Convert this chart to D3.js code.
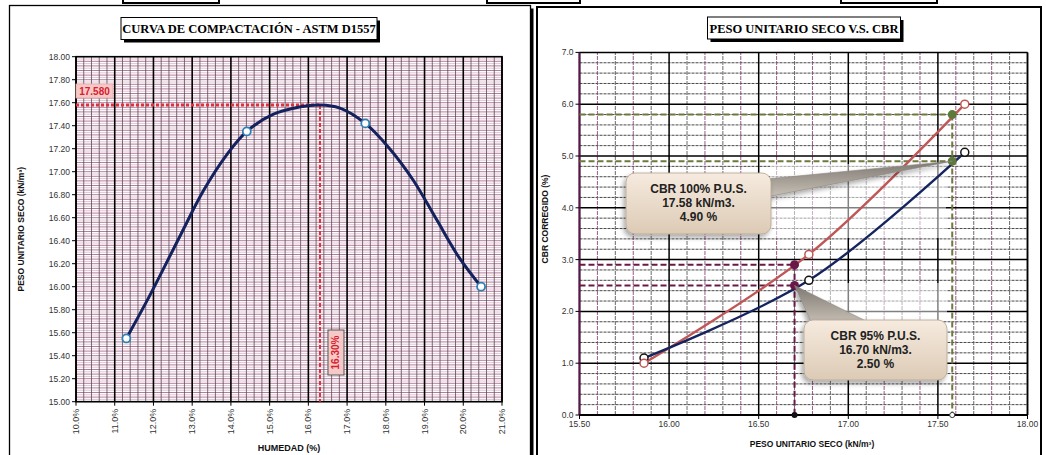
<!DOCTYPE html>
<html>
<head>
<meta charset="utf-8">
<script src="https://cdn.jsdelivr.net/npm/d3@7"></script>
<style>
  html, body { margin: 0; padding: 0; background: #fff; }
  svg { display: block; }
  text { font-family: "Liberation Sans", Arial, sans-serif; }
</style>
</head>
<body>
<svg id="chart" width="1046" height="455"></svg>
<script>
// ---- Compaction curve (Proctor, ASTM D1557) ----
const moisture = [11.3, 14.41, 17.47, 20.46];          // %
const dryDensity = [15.55, 17.35, 17.42, 16.00];       // kN/m3
// fitted curve traced through the test points
const fitMoisture = [11.3, 11.9, 12.7, 13.3, 13.9, 14.41, 15.1, 15.8, 16.3, 16.8, 17.47, 18.1, 18.7, 19.3, 19.9, 20.46];
const fitDensity  = [15.55, 15.92, 16.45, 16.84, 17.15, 17.35, 17.50, 17.565, 17.58, 17.555, 17.42, 17.20, 16.93, 16.59, 16.25, 16.00];
const optMoisture = 16.30;
const maxDensity = 17.58;
const yTicksL = [15.0, 15.2, 15.4, 15.6, 15.8, 16.0, 16.2, 16.4, 16.6, 16.8, 17.0, 17.2, 17.4, 17.6, 17.8, 18.0];
const xTicksL = [10, 11, 12, 13, 14, 15, 16, 17, 18, 19, 20, 21];

// ---- Dry unit weight vs CBR ----
const cbrDensity = [15.86, 16.78, 17.65];
const cbr01 = [1.10, 2.60, 5.07];   // navy series
const cbr02 = [1.00, 3.10, 6.00];   // red series
const dens95 = 16.70, dens100 = 17.58;
const cbr95 = [2.90, 2.50];         // red, navy at 95%
const cbr100 = [5.80, 4.90];        // red, navy at 100%
const yTicksR = [0, 1, 2, 3, 4, 5, 6, 7];
const xTicksR = [15.5, 16.0, 16.5, 17.0, 17.5, 18.0];

const svg = d3.select("#chart");
const defs = svg.append("defs");

const calloutGrad = defs.append("linearGradient").attr("id", "callFill").attr("x1", 0).attr("y1", 0).attr("x2", 0).attr("y2", 1);
calloutGrad.append("stop").attr("offset", "0%").attr("stop-color", "#f6ebdf");
calloutGrad.append("stop").attr("offset", "100%").attr("stop-color", "#dccab5");
const wedgeGrad = defs.append("linearGradient").attr("id", "wedgeFill").attr("x1", 0).attr("y1", 0).attr("x2", 0).attr("y2", 1);
wedgeGrad.append("stop").attr("offset", "0%").attr("stop-color", "#7d7872");
wedgeGrad.append("stop").attr("offset", "100%").attr("stop-color", "#c9c1b6");
const shadow = defs.append("filter").attr("id", "soft").attr("x", "-20%").attr("y", "-20%").attr("width", "140%").attr("height", "150%");
shadow.append("feDropShadow").attr("dx", -2).attr("dy", 3).attr("stdDeviation", 2.5).attr("flood-color", "#000").attr("flood-opacity", 0.35);

// ---- panel frames ----
[[123, 219], [487, 580], [841, 937]].forEach(([a, b]) => {
  svg.append("rect").attr("x", a).attr("y", -6).attr("width", b - a).attr("height", 9)
    .attr("fill", "#fff").attr("stroke", "#000").attr("stroke-width", 2);
});
svg.append("rect").attr("x", 12.5).attr("y", 8.5).attr("width", 521).attr("height", 460).attr("fill", "#000");
svg.append("rect").attr("x", 9.5).attr("y", 5.5).attr("width", 521).attr("height", 460)
  .attr("fill", "#fff").attr("stroke", "#000").attr("stroke-width", 1.3);
svg.append("rect").attr("x", 537).attr("y", 7).attr("width", 504).attr("height", 460)
  .attr("fill", "#fff").attr("stroke", "#000").attr("stroke-width", 2);

function titleBox(cx, cy, w, label) {
  const g = svg.append("g");
  g.append("rect").attr("x", cx - w / 2 + 3).attr("y", cy - 11 + 3).attr("width", w).attr("height", 22).attr("fill", "#000");
  g.append("rect").attr("x", cx - w / 2).attr("y", cy - 11).attr("width", w).attr("height", 22)
    .attr("fill", "#fff").attr("stroke", "#000").attr("stroke-width", 1);
  g.append("text").attr("x", cx).attr("y", cy + 4.5).attr("text-anchor", "middle")
    .style("font-family", "'Liberation Serif', 'Times New Roman', serif").style("font-weight", "bold")
    .style("font-size", "12.5px").attr("fill", "#000").text(label);
}

// ================= LEFT: compaction curve =================
const xL = d3.scaleLinear().domain([10, 21]).range([76, 502]);
const yL = d3.scaleLinear().domain([15, 18]).range([401.7, 56.7]);

titleBox(249, 28.5, 256, "CURVA DE COMPACTACIÓN - ASTM D1557");

const gL = svg.append("g");
// horizontal fine grid
d3.range(0, 151).map(i => 15 + i * 0.02).forEach((v, i) => {
  gL.append("line").attr("x1", xL(10)).attr("x2", xL(21)).attr("y1", yL(v)).attr("y2", yL(v))
    .attr("stroke", i % 2 ? "#dcb2c8" : "#9c5e82").attr("stroke-width", 0.8);
});
// vertical minor grid (0.2 %)
d3.range(0, 56).map(i => 10 + i * 0.2).forEach((v, i) => {
  if (i % 5 === 0) return;
  gL.append("line").attr("x1", xL(v)).attr("x2", xL(v)).attr("y1", yL(15)).attr("y2", yL(18))
    .attr("stroke", "#5a4854").attr("stroke-width", 0.8);
});
// vertical major grid (1 %)
xTicksL.forEach(v => {
  gL.append("line").attr("x1", xL(v)).attr("x2", xL(v)).attr("y1", yL(15)).attr("y2", yL(18))
    .attr("stroke", "#000").attr("stroke-width", 1.6);
});
gL.append("rect").attr("x", xL(10)).attr("y", yL(18)).attr("width", xL(21) - xL(10)).attr("height", yL(15) - yL(18))
  .attr("fill", "none").attr("stroke", "#000").attr("stroke-width", 1.6);

// y ticks
yTicksL.forEach(v => {
  gL.append("line").attr("x1", xL(10) - 4).attr("x2", xL(10)).attr("y1", yL(v)).attr("y2", yL(v)).attr("stroke", "#000");
  gL.append("text").attr("x", xL(10) - 6).attr("y", yL(v) + 3).attr("text-anchor", "end")
    .style("font-size", "8.5px").attr("fill", "#333").text(v.toFixed(2));
});
// x ticks (rotated)
xTicksL.forEach(v => {
  gL.append("line").attr("x1", xL(v)).attr("x2", xL(v)).attr("y1", yL(15)).attr("y2", yL(15) + 4).attr("stroke", "#000");
  gL.append("text").attr("transform", `translate(${xL(v) + 3},${yL(15) + 7}) rotate(-90)`)
    .attr("text-anchor", "end").style("font-size", "9px").attr("fill", "#333").text(v.toFixed(1) + "%");
});
gL.append("text").attr("transform", `translate(24,${(yL(15) + yL(18)) / 2}) rotate(-90)`).attr("text-anchor", "middle")
  .style("font-size", "8.5px").style("font-weight", "bold").attr("fill", "#111").text("PESO UNITARIO SECO (kN/m³)");
gL.append("text").attr("x", 289).attr("y", 451).attr("text-anchor", "middle")
  .style("font-size", "9px").style("font-weight", "bold").attr("fill", "#111").text("HUMEDAD (%)");

// optimum markers
gL.append("line").attr("x1", xL(10)).attr("x2", xL(optMoisture)).attr("y1", yL(maxDensity)).attr("y2", yL(maxDensity))
  .attr("stroke", "#e0303c").attr("stroke-width", 3).attr("stroke-dasharray", "3,2");
gL.append("line").attr("x1", xL(optMoisture)).attr("x2", xL(optMoisture)).attr("y1", yL(maxDensity)).attr("y2", yL(15))
  .attr("stroke", "#e0303c").attr("stroke-width", 2).attr("stroke-dasharray", "4,2");

// fitted curve
const lineL = d3.line().x(d => xL(d[0])).y(d => yL(d[1])).curve(d3.curveCatmullRom.alpha(0.5));
gL.append("path").datum(d3.zip(fitMoisture, fitDensity)).attr("d", lineL)
  .attr("fill", "none").attr("stroke", "#13215e").attr("stroke-width", 3);
d3.zip(moisture, dryDensity).forEach(d => {
  gL.append("circle").attr("cx", xL(d[0])).attr("cy", yL(d[1])).attr("r", 4)
    .attr("fill", "#fff").attr("stroke", "#2f7fb5").attr("stroke-width", 1.8);
});

// value labels
gL.append("rect").attr("x", 76).attr("y", 84).attr("width", 37).attr("height", 14)
  .attr("fill", "#f6c9c9").attr("stroke", "#e8a8a8").attr("stroke-width", 0.8);
gL.append("text").attr("x", 94.5).attr("y", 94.5).attr("text-anchor", "middle")
  .style("font-size", "10px").style("font-weight", "bold").attr("fill", "#d8202c").text(maxDensity.toFixed(3));
gL.append("rect").attr("x", xL(optMoisture) + 8).attr("y", 330).attr("width", 16).attr("height", 45)
  .attr("fill", "#f6c9c9").attr("stroke", "#555").attr("stroke-width", 1);
gL.append("text").attr("transform", `translate(${xL(optMoisture) + 19.5},352.5) rotate(-90)`).attr("text-anchor", "middle")
  .style("font-size", "10px").style("font-weight", "bold").attr("fill", "#d8202c").text(optMoisture.toFixed(2) + "%");

// ================= RIGHT: dry unit weight vs CBR =================
const xR = d3.scaleLinear().domain([15.5, 18]).range([579.5, 1027.5]);
const yR = d3.scaleLinear().domain([0, 7]).range([415, 52.4]);

titleBox(804, 28, 193, "PESO UNITARIO SECO V.S. CBR");

const gR = svg.append("g");
// horizontal grid every 0.2
d3.range(0, 36).map(i => i * 0.2).forEach((v, i) => {
  if (i % 5 === 0) return;
  gR.append("line").attr("x1", xR(15.5)).attr("x2", xR(18)).attr("y1", yR(v)).attr("y2", yR(v))
    .attr("stroke", "#333").attr("stroke-width", 0.9).attr("stroke-dasharray", "3,1");
});
// vertical grid every 0.1
d3.range(0, 26).map(i => 15.5 + i * 0.1).forEach((v, i) => {
  if (i % 5 === 0) return;
  gR.append("line").attr("x1", xR(v)).attr("x2", xR(v)).attr("y1", yR(0)).attr("y2", yR(7))
    .attr("stroke", i % 2 ? "#8a4a78" : "#5a5a5a").attr("stroke-width", 0.9).attr("stroke-dasharray", "4,1");
});
yTicksR.forEach(v => {
  gR.append("line").attr("x1", xR(15.5)).attr("x2", xR(18)).attr("y1", yR(v)).attr("y2", yR(v))
    .attr("stroke", "#000").attr("stroke-width", 1.5);
});
xTicksR.forEach(v => {
  gR.append("line").attr("x1", xR(v)).attr("x2", xR(v)).attr("y1", yR(0)).attr("y2", yR(7))
    .attr("stroke", "#000").attr("stroke-width", 1.5);
});
// faded areas around the callout pointers
gR.append("rect").attr("x", 770).attr("y", 164).attr("width", 176).attr("height", 74).attr("fill", "#fff").attr("opacity", 0.5);
gR.append("rect").attr("x", 806).attr("y", 283).attr("width", 141).attr("height", 38).attr("fill", "#fff").attr("opacity", 0.5);

gR.append("line").attr("x1", xR(15.5)).attr("x2", xR(15.5)).attr("y1", yR(0)).attr("y2", yR(7)).attr("stroke", "#5a1848").attr("stroke-width", 2);
gR.append("line").attr("x1", xR(15.5)).attr("x2", xR(18)).attr("y1", yR(0)).attr("y2", yR(0)).attr("stroke", "#000").attr("stroke-width", 2);
gR.append("line").attr("x1", xR(18)).attr("x2", xR(18)).attr("y1", yR(0)).attr("y2", yR(7)).attr("stroke", "#000").attr("stroke-width", 1.5);

yTicksR.forEach(v => {
  gR.append("line").attr("x1", xR(15.5) - 4).attr("x2", xR(15.5)).attr("y1", yR(v)).attr("y2", yR(v)).attr("stroke", "#000");
  gR.append("text").attr("x", xR(15.5) - 6).attr("y", yR(v) + 3).attr("text-anchor", "end")
    .style("font-size", "8.5px").attr("fill", "#333").text(v.toFixed(1));
});
xTicksR.forEach(v => {
  gR.append("line").attr("x1", xR(v)).attr("x2", xR(v)).attr("y1", yR(0)).attr("y2", yR(0) + 4).attr("stroke", "#000");
  gR.append("text").attr("x", xR(v)).attr("y", yR(0) + 12).attr("text-anchor", "middle")
    .style("font-size", "8.5px").attr("fill", "#333").text(v.toFixed(2));
});
gR.append("text").attr("transform", `translate(548,219) rotate(-90)`).attr("text-anchor", "middle")
  .style("font-size", "8.5px").style("font-weight", "bold").attr("fill", "#111").text("CBR CORREGIDO (%)");
gR.append("text").attr("x", 812).attr("y", 447).attr("text-anchor", "middle")
  .style("font-size", "8.5px").style("font-weight", "bold").attr("fill", "#111").text("PESO UNITARIO SECO (kN/m³)");

// reference lines at 95% and 100%
const purple = "#6a1848", olive = "#6e7a3c";
cbr95.forEach(c => {
  gR.append("line").attr("x1", xR(15.5)).attr("x2", xR(dens95)).attr("y1", yR(c)).attr("y2", yR(c))
    .attr("stroke", purple).attr("stroke-width", 2).attr("stroke-dasharray", "6,3");
});
gR.append("line").attr("x1", xR(dens95)).attr("x2", xR(dens95)).attr("y1", yR(cbr95[0])).attr("y2", yR(0))
  .attr("stroke", purple).attr("stroke-width", 2).attr("stroke-dasharray", "6,3");
cbr100.forEach(c => {
  gR.append("line").attr("x1", xR(15.5)).attr("x2", xR(dens100)).attr("y1", yR(c)).attr("y2", yR(c))
    .attr("stroke", olive).attr("stroke-width", 2).attr("stroke-dasharray", "6,3");
});
gR.append("line").attr("x1", xR(dens100)).attr("x2", xR(dens100)).attr("y1", yR(cbr100[0])).attr("y2", yR(0))
  .attr("stroke", olive).attr("stroke-width", 2).attr("stroke-dasharray", "6,3");

// series
const lineR = d3.line().x(d => xR(d[0])).y(d => yR(d[1])).curve(d3.curveCatmullRom.alpha(0.5));
gR.append("path").datum(d3.zip(cbrDensity, cbr02)).attr("d", lineR)
  .attr("fill", "none").attr("stroke", "#c05656").attr("stroke-width", 2.4);
gR.append("path").datum(d3.zip(cbrDensity, cbr01)).attr("d", lineR)
  .attr("fill", "none").attr("stroke", "#14245e").attr("stroke-width", 2.4);
d3.zip(cbrDensity, cbr01).forEach(d => {
  gR.append("circle").attr("cx", xR(d[0])).attr("cy", yR(d[1])).attr("r", 4)
    .attr("fill", "#fff").attr("stroke", "#111").attr("stroke-width", 1.5);
});
d3.zip(cbrDensity, cbr02).forEach(d => {
  gR.append("circle").attr("cx", xR(d[0])).attr("cy", yR(d[1])).attr("r", 4)
    .attr("fill", "#fff").attr("stroke", "#c05656").attr("stroke-width", 1.5);
});
cbr95.forEach(c => gR.append("circle").attr("cx", xR(dens95)).attr("cy", yR(c)).attr("r", 4.5).attr("fill", purple));
cbr100.forEach(c => gR.append("circle").attr("cx", xR(dens100)).attr("cy", yR(c)).attr("r", 4.5).attr("fill", "#5e7a3a"));
gR.append("circle").attr("cx", xR(dens95)).attr("cy", yR(0)).attr("r", 3).attr("fill", "#111");
gR.append("circle").attr("cx", xR(dens100)).attr("cy", yR(0)).attr("r", 2.6).attr("fill", "#fff").attr("stroke", "#333").attr("stroke-width", 1);

// callouts
function callout(box, tip, base, lines) {
  const g = svg.append("g");
  g.append("path").attr("d", `M${base[0][0]},${base[0][1]}L${tip[0]},${tip[1]}L${base[1][0]},${base[1][1]}Z`)
    .attr("fill", "url(#wedgeFill)").attr("stroke", "#8d877f").attr("stroke-width", 0.6).attr("filter", "url(#soft)");
  g.append("rect").attr("x", box[0]).attr("y", box[1]).attr("width", box[2]).attr("height", box[3]).attr("rx", 9)
    .attr("fill", "url(#callFill)").attr("stroke", "#b3a391").attr("stroke-width", 0.8).attr("filter", "url(#soft)");
  lines.forEach((t, i) => {
    g.append("text").attr("x", box[0] + box[2] / 2).attr("y", box[1] + 20 + i * 14).attr("text-anchor", "middle")
      .style("font-size", "12px").style("font-weight", "bold").attr("fill", "#222").text(t);
  });
}
callout([626, 173, 145, 61], [xR(dens100), yR(cbr100[1])], [[766, 179], [766, 197]],
  ["CBR 100% P.U.S.", dens100.toFixed(2) + " kN/m3.", cbr100[1].toFixed(2) + " %"]);
callout([804, 320, 143, 60], [xR(dens95), yR(cbr95[1])], [[812, 324], [872, 324]],
  ["CBR 95% P.U.S.", dens95.toFixed(2) + " kN/m3.", cbr95[1].toFixed(2) + " %"]);
</script>
</body>
</html>
